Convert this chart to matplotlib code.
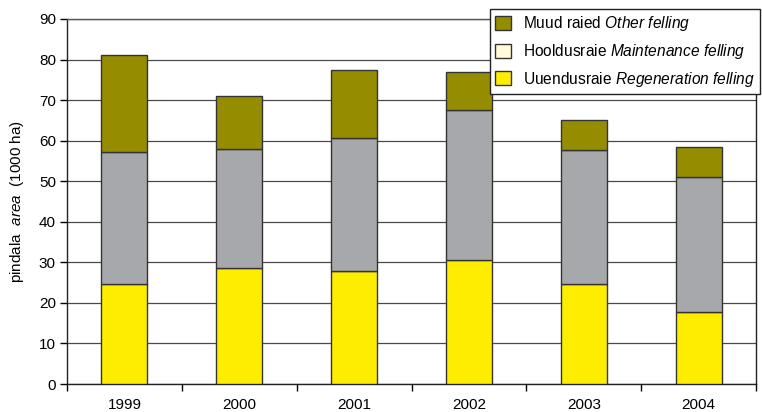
import matplotlib.pyplot as plt
import numpy as np
from matplotlib.patches import Patch

plt.rcParams['font.family'] = ['Liberation Sans', 'DejaVu Sans']
plt.rcParams['mathtext.fontset'] = 'custom'
plt.rcParams['mathtext.rm'] = 'Liberation Sans'
plt.rcParams['mathtext.it'] = 'Liberation Sans:italic'

years = ['1999', '2000', '2001', '2002', '2003', '2004']
regeneration = [24.6, 28.7, 27.9, 30.5, 24.6, 17.8]
maintenance = [32.6, 29.2, 32.7, 37.1, 33.2, 33.3]
other = [23.9, 13.0, 16.9, 9.3, 7.2, 7.4]

labels = [r'Uuendusraie $\it{Regeneration\ felling}$',
          r'Hooldusraie $\it{Maintenance\ felling}$',
          r'Muud raied $\it{Other\ felling}$']

c_reg = '#FFED00'
c_main = '#A7A8AB'
c_other = '#968C00'
c_legend_main = '#FFFBD8'

fig = plt.figure(figsize=(7.62, 4.12), dpi=100)
ax = fig.add_axes([67/762, 1 - 384/412, (756 - 67)/762, (384 - 19)/412])

x = np.arange(len(years))
w = 0.4
edge = dict(edgecolor='#333333', linewidth=1.0, zorder=3)
ax.bar(x, regeneration, w, color=c_reg, **edge)
ax.bar(x, maintenance, w, bottom=regeneration, color=c_main, **edge)
bottom2 = np.array(regeneration) + np.array(maintenance)
ax.bar(x, other, w, bottom=bottom2, color=c_other, **edge)

ax.set_xlim(-0.5, len(years) - 0.5)
ax.set_ylim(0, 90)
ax.set_yticks(range(0, 91, 10))
ax.yaxis.grid(True, color='#4a4a4a', linewidth=0.9)
ax.set_axisbelow(True)

ax.set_xticks(x)
ax.set_xticklabels(years)
ax.set_xticks(np.arange(-0.5, len(years), 1), minor=True)
ax.tick_params(axis='x', which='major', length=0, pad=10, labelsize=11)
ax.tick_params(axis='x', which='minor', length=5, direction='out', width=1)
ax.tick_params(axis='y', length=5, direction='out', width=1, labelsize=11, pad=3)

for s in ax.spines.values():
    s.set_color('#222222')
    s.set_linewidth(1.0)
ax.spines['top'].set_color('#555555')

ax.set_ylabel(r'pindala  $\it{area}$  (1000 ha)', fontsize=11, labelpad=9)

handles = [Patch(facecolor=c_other, edgecolor='#333333', label=labels[2]),
           Patch(facecolor=c_legend_main, edgecolor='#333333', label=labels[1]),
           Patch(facecolor=c_reg, edgecolor='#333333', label=labels[0])]
leg = ax.legend(handles=handles, loc='upper right',
                bbox_to_anchor=(760/762, 1 - 9/412), bbox_transform=fig.transFigure,
                fancybox=False, framealpha=1, edgecolor='#222222', fontsize=11.2,
                handlelength=1.0, handleheight=1.0, handletextpad=0.75,
                labelspacing=0.55, borderpad=0.35, borderaxespad=0)
leg.get_frame().set_linewidth(1.0)
leg.set_zorder(5)

fig.savefig('out.png', dpi=100)
